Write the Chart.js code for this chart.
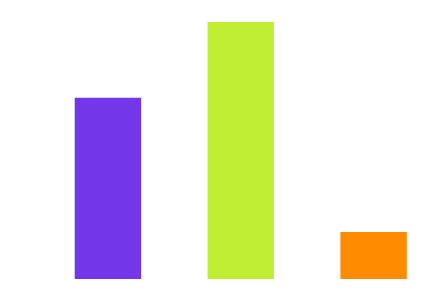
<!DOCTYPE html>
<html>
<head>
<meta charset="utf-8">
<script src="https://cdn.jsdelivr.net/npm/chart.js@4"></script>
<style>
  html, body { margin: 0; padding: 0; background: #fff; }
  #wrap { width: 440px; height: 302px; }
</style>
</head>
<body>
<div id="wrap"><canvas id="chart"></canvas></div>
<script>
const categories = ["A", "B", "C"];
const values = [70.5, 100, 18.3];
const barColors = ["#7436e9", "#bfee33", "#ff8c00"];

new Chart(document.getElementById("chart").getContext("2d"), {
  type: "bar",
  data: {
    labels: categories,
    datasets: [
      {
        data: values,
        backgroundColor: barColors,
        borderWidth: 0,
        categoryPercentage: 1,
        barPercentage: 0.5,
      },
    ],
  },
  options: {
    responsive: true,
    maintainAspectRatio: false,
    animation: false,
    layout: { padding: { left: 41.5, right: 0, top: 22, bottom: 23 } },
    plugins: { legend: { display: false }, tooltip: { enabled: false } },
    scales: {
      x: { display: false },
      y: { display: false, min: 0, max: 100 },
    },
  },
});
</script>
</body>
</html>
